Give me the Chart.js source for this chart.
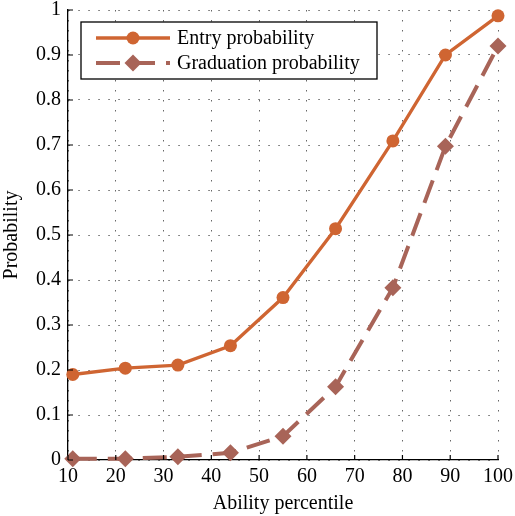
<!DOCTYPE html>
<html>
<head>
<meta charset="utf-8">
<script src="https://cdn.jsdelivr.net/npm/chart.js@4/dist/chart.umd.min.js"></script>
<style>
html,body{margin:0;padding:0;background:#fff;}
#wrap{width:515px;height:516px;position:relative;}
</style>
</head>
<body>
<div id="wrap"><canvas id="c" width="515" height="516"></canvas></div>
<script>
const abilityPercentile = [11, 22, 33, 44, 55, 66, 78, 89, 100];
const entryProbability = [0.190, 0.204, 0.211, 0.254, 0.361, 0.514, 0.709, 0.900, 0.987];
const graduationProbability = [0.003, 0.003, 0.007, 0.016, 0.053, 0.163, 0.383, 0.697, 0.920];
const xTickLabels = ['10','20','30','40','50','60','70','80','90','100'];
const yTickLabels = ['0','0.1','0.2','0.3','0.4','0.5','0.6','0.7','0.8','0.9','1'];
const seriesLabels = ['Entry probability', 'Graduation probability'];
const xTitle = 'Ability percentile';
const yTitle = 'Probability';

const ENTRY = 'rgb(207,101,50)';
const GRAD = 'rgb(168,100,88)';
const FONT = '"Liberation Serif", "Times New Roman", serif';

const inwardTicks = {
  id: 'inwardTicks',
  afterDraw(chart) {
    const ctx = chart.ctx, a = chart.chartArea;
    const xs = chart.scales.x, ys = chart.scales.y;
    ctx.save();
    ctx.strokeStyle = '#000';
    ctx.lineWidth = 1.2;
    ctx.beginPath();
    xs.ticks.forEach(t => { const p = xs.getPixelForValue(t.value); ctx.moveTo(p, a.bottom); ctx.lineTo(p, a.bottom - 5); });
    ys.ticks.forEach(t => { const p = ys.getPixelForValue(t.value); ctx.moveTo(a.left, p); ctx.lineTo(a.left + 5, p); });
    ctx.stroke();
    ctx.restore();
  }
};

const boxLegend = {
  id: 'boxLegend',
  afterDraw(chart) {
    const ctx = chart.ctx;
    const x0 = 81, y0 = 22, w = 296, h = 57;
    ctx.save();
    ctx.fillStyle = '#fff';
    ctx.fillRect(x0, y0, w, h);
    ctx.strokeStyle = '#000';
    ctx.lineWidth = 1.3;
    ctx.strokeRect(x0, y0, w, h);
    const rows = [38, 63];
    chart.data.datasets.forEach((ds, i) => {
      const y = rows[i];
      ctx.strokeStyle = ds.borderColor;
      ctx.lineWidth = ds.borderWidth;
      ctx.setLineDash(ds.borderDash || []);
      ctx.lineDashOffset = 0;
      ctx.beginPath(); ctx.moveTo(96, y); ctx.lineTo(170, y); ctx.stroke();
      ctx.setLineDash([]);
      ctx.fillStyle = ds.pointBackgroundColor;
      ctx.beginPath();
      if (ds.pointStyle === 'circle') { ctx.arc(133, y, ds.pointRadius, 0, Math.PI * 2); }
      else { const r = ds.pointRadius; ctx.moveTo(133, y - r); ctx.lineTo(133 + r, y); ctx.lineTo(133, y + r); ctx.lineTo(133 - r, y); ctx.closePath(); }
      ctx.fill();
      ctx.fillStyle = '#000';
      ctx.font = '20px ' + FONT;
      ctx.textBaseline = 'middle';
      ctx.textAlign = 'left';
      ctx.fillText(ds.label, 177, y + 1);
    });
    ctx.restore();
  }
};

new Chart(document.getElementById('c'), {
  type: 'line',
  data: {
    datasets: [
      {
        label: seriesLabels[0],
        data: abilityPercentile.map((x, i) => ({x: x, y: entryProbability[i]})),
        borderColor: ENTRY, backgroundColor: ENTRY,
        pointBackgroundColor: ENTRY, pointBorderColor: ENTRY,
        borderWidth: 3.3, pointRadius: 6.5, pointBorderWidth: 0, pointStyle: 'circle',
        tension: 0, fill: false, clip: false
      },
      {
        label: seriesLabels[1],
        data: abilityPercentile.map((x, i) => ({x: x, y: graduationProbability[i]})),
        borderColor: GRAD, backgroundColor: GRAD,
        pointBackgroundColor: GRAD, pointBorderColor: GRAD,
        borderWidth: 4, borderDash: [24, 11], pointRadius: 8.5, pointBorderWidth: 0, pointStyle: 'rectRot',
        tension: 0, fill: false, clip: false
      }
    ]
  },
  options: {
    responsive: false,
    animation: false,
    devicePixelRatio: 1,
    layout: { padding: { top: 10, right: 17, left: 0, bottom: 0 } },
    plugins: { legend: { display: false }, tooltip: { enabled: false } },
    scales: {
      x: {
        type: 'linear', min: 10, max: 100,
        ticks: { stepSize: 10, autoSkip: false, color: '#000', font: { family: FONT, size: 20 }, padding: 5, maxRotation: 0,
          callback: (v, i) => xTickLabels[i] },
        grid: { color: '#666', lineWidth: 1, drawTicks: false, tickLength: 0 },
        border: { display: true, color: '#000', width: 1.3, dash: [1.5, 8.5] },
        title: { display: true, text: xTitle, color: '#000', font: { family: FONT, size: 20 }, padding: { top: 0, bottom: 0 } },
        afterFit(s) { s.height = 56; s.paddingLeft = 0; s.paddingRight = 0; }
      },
      y: {
        type: 'linear', min: 0, max: 1,
        ticks: { stepSize: 0.1, autoSkip: false, color: '#000', font: { family: FONT, size: 20 }, padding: 7,
          callback: (v, i) => yTickLabels[i] },
        grid: { color: '#666', lineWidth: 1, drawTicks: false, tickLength: 0 },
        border: { display: true, color: '#000', width: 1.3, dash: [1.5, 8.5] },
        title: { display: true, text: yTitle, color: '#000', font: { family: FONT, size: 20 }, padding: { top: 0, bottom: 0 } },
        afterFit(s) { s.width = 68; s.paddingTop = 0; s.paddingBottom = 0; }
      }
    }
  },
  plugins: [inwardTicks, boxLegend]
});
</script>
</body>
</html>
